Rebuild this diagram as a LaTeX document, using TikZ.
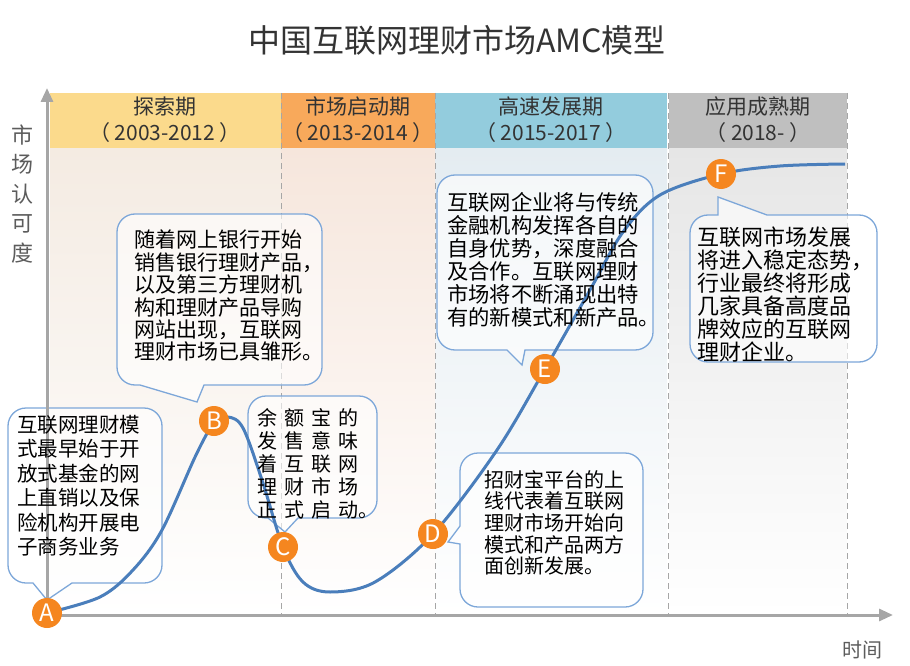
\documentclass[tikz,border=0pt]{standalone}
\usepackage{fontspec}
\setmainfont{Noto Sans CJK SC}
\usetikzlibrary{arrows.meta}

\definecolor{bandyellow}{HTML}{FBDA8C}
\definecolor{bandorange}{HTML}{F8A95B}
\definecolor{bandblue}{HTML}{93CCDD}
\definecolor{bandgray}{HTML}{BFBFBF}
\definecolor{bodyyellow}{HTML}{F4EBE2}
\definecolor{bodyorange}{HTML}{F6E6DC}
\definecolor{bodyblue}{HTML}{E4ECF1}
\definecolor{bodygray}{HTML}{E6E6E6}
\definecolor{axisgray}{HTML}{A6A6A6}
\definecolor{curveblue}{HTML}{4A7EBB}
\definecolor{bubbleblue}{HTML}{7DA7D9}
\definecolor{markorange}{HTML}{F5861F}
\definecolor{textgray}{HTML}{333333}

\begin{document}
\begin{tikzpicture}[x=1pt, y=-1pt,
  bandtext/.style={font=\fontsize{21}{26}\selectfont, text=textgray, align=center},
  divider/.style={axisgray, line width=1pt, dash pattern=on 6pt off 4pt},
  axis/.style={axisgray, line width=3pt, -{Triangle[length=14pt,width=12pt]}},
  bubble/.style={draw=bubbleblue, line width=1.3pt, fill=white, fill opacity=0.6},
  note/.style={anchor=north west, inner sep=0pt, align=left, text=black},
  marker/.style={circle, fill=markorange, text=white, minimum size=30pt,
    inner sep=0pt, font=\fontsize{24}{24}\selectfont}]

\useasboundingbox (0,0) rectangle (910,666);
\def\cgap{\hspace{7pt}}

%==== title ====
\node[font=\fontsize{32}{32}\selectfont, text=textgray] (title) at (457,40)
  {中国互联网理财市场AMC模型};

%==== (1) stage backgrounds ====
\shade[top color=bodyyellow, bottom color=white] (50,148) rectangle (281,615);
\shade[top color=bodyorange, bottom color=white] (281,148) rectangle (435,615);
\shade[top color=bodyblue, bottom color=white] (435,148) rectangle (667,615);
\shade[top color=bodygray, bottom color=white] (669,148) rectangle (847,615);

\fill[bandyellow] (50,93) rectangle (281,148);
\fill[bandorange] (281,93) rectangle (435,148);
\fill[bandblue] (435,93) rectangle (667,148);
\fill[bandgray] (669,93) rectangle (847,148);

\node[bandtext] (s1) at (165,120) {探索期\\（ 2003-2012 ）};
\node[bandtext] (s2) at (358,120) {市场启动期\\（ 2013-2014 ）};
\node[bandtext] (s3) at (551,120) {高速发展期\\（ 2015-2017 ）};
\node[bandtext] (s4) at (758,120) {应用成熟期\\（ 2018- ）};

\draw[divider] (281,93) -- (281,615);
\draw[divider] (435,93) -- (435,615);
\draw[divider] (668,93) -- (668,615);
\draw[divider] (847,93) -- (847,615);

%==== (2) callouts ====
\draw[bubble] (72,583) [rounded corners=18] -- (162,583) -- (162,408) -- (8,408)
  -- (8,583) [sharp corners] -- (33,583) -- (47,600) -- cycle;
\draw[bubble] (204,385) [rounded corners=18] -- (322,385) -- (322,214) -- (117,214)
  -- (117,385) [sharp corners] -- (140,385) -- (197,402) -- cycle;
\draw[bubble] (298,518) [rounded corners=18] -- (377,518) -- (377,396) -- (248,396)
  -- (248,518) [sharp corners] -- (268,518) -- (285,532) -- cycle;
\draw[bubble] (460,544) [rounded corners=18] -- (460,607) -- (643,607) -- (643,453)
  -- (460,453) [sharp corners] -- (460,526) -- (448,542) -- cycle;
\draw[bubble] (525,350) [rounded corners=18] -- (653,350) -- (653,175) -- (437,175)
  -- (437,350) [sharp corners] -- (507,350) -- (522,365) -- cycle;
\draw[bubble] (767,215) [rounded corners=18] -- (877,215) -- (877,362) -- (690,362)
  -- (690,215) [sharp corners] -- (718,215) -- (718,197) -- cycle;

%==== (3) axes ====
\coordinate (O) at (47,615);
\draw[axis] (O) -- (47,88);
\draw[axis] (O) -- (893,615);
\node[font=\fontsize{22}{29.5}\selectfont, text=textgray!80, align=center] (ylab)
  at (22,194) {市\\场\\认\\可\\度};
\node[font=\fontsize{20}{20}\selectfont, text=textgray!80] (xlab) at (862,650) {时间};

%==== (4) curve ====
\coordinate (pA) at (47,613);
\coordinate (pB) at (214,423);
\coordinate (pC) at (283,547);
\coordinate (pD) at (433,534);
\coordinate (pE) at (545,369);
\coordinate (pF) at (721,174);
\draw[curveblue, line width=3pt, smooth, tension=0.55] plot coordinates {
  (pA) (100,597) (133,570) (162,530) (196,455) (pB) (228,417) (243,428) (262,480)
  (pC) (303,582) (330,592) (375,582) (pD) (497,450) (pE) (590,290) (623,232)
  (660,195) (pF) (780,166) (845,164)};

%==== (5) notes ====
\node[note, font=\fontsize{20.5}{24.4}\selectfont] (tA) at (17,415)
  {互联网理财模\\式最早始于开\\放式基金的网\\上直销以及保\\险机构开展电\\子商务业务};
\node[note, font=\fontsize{21}{22.4}\selectfont] (tB) at (134,230)
  {随着网上银行开始\\销售银行理财产品，\\以及第三方理财机\\构和理财产品导购\\网站出现，互联网\\理财市场已具雏形。};
\node[note, font=\fontsize{20}{23}\selectfont] (tC) at (257,408)
  {余\cgap 额\cgap 宝\cgap 的\\发\cgap 售\cgap 意\cgap 味\\着\cgap 互\cgap 联\cgap 网\\理\cgap 财\cgap 市\cgap 场\\正\cgap 式\cgap 启\cgap 动。};
\node[note, font=\fontsize{20}{21.7}\selectfont] (tD) at (484,470)
  {招财宝平台的上\\线代表着互联网\\理财市场开始向\\模式和产品两方\\面创新发展。};
\node[note, font=\fontsize{21.3}{23}\selectfont] (tE) at (447,192)
  {互联网企业将与传统\\金融机构发挥各自的\\自身优势，深度融合\\及合作。互联网理财\\市场将不断涌现出特\\有的新模式和新产品。};
\node[note, font=\fontsize{22}{23}\selectfont] (tF) at (697,227)
  {互联网市场发展\\将进入稳定态势，\\行业最终将形成\\几家具备高度品\\牌效应的互联网\\理财企业。};

%==== (6) markers ====
\node[marker] (mA) at (pA) {A};
\node[marker] (mB) at (214,421) {B};
\node[marker] (mC) at (pC) {C};
\node[marker] (mD) at (pD) {D};
\node[marker] (mE) at (pE) {E};
\node[marker] (mF) at (pF) {F};

\end{tikzpicture}
\end{document}
